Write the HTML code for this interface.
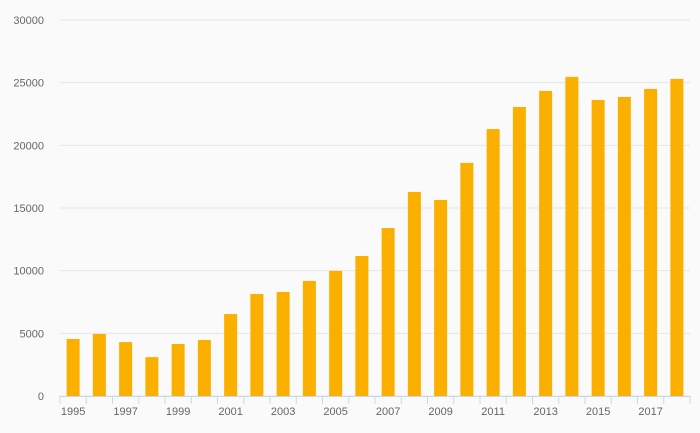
<!DOCTYPE html>
<html><head><meta charset="utf-8"><style>
html,body{margin:0;padding:0;background:#fafafa;}
svg{display:block;font-family:"Liberation Sans",sans-serif;}
</style></head><body>
<svg id="chart" width="700" height="433"></svg>
<script>
const categories=[1995,1996,1997,1998,1999,2000,2001,2002,2003,2004,2005,2006,2007,2008,2009,2010,2011,2012,2013,2014,2015,2016,2017,2018];
const values=[4550,4950,4300,3100,4150,4470,6540,8140,8300,9180,9980,11170,13400,16280,15640,18600,21300,23060,24340,25460,23620,23860,24500,25300];
const yTicks=[0,5000,10000,15000,20000,25000,30000];
const NS='http://www.w3.org/2000/svg';
const svg=document.getElementById('chart');
const L=60,R=690,T=20,B=396,yMax=30000;
const bw=(R-L)/categories.length;
const y=v=>B-(v/yMax)*(B-T);
const x=i=>L+bw*i+bw/2;
function mk(tag,attrs){const e=document.createElementNS(NS,tag);for(const k in attrs)e.setAttribute(k,attrs[k]);svg.appendChild(e);return e;}
yTicks.forEach(t=>{
  const g=mk('line',{x1:L,x2:R,y1:y(t),y2:y(t),stroke:'#e6e6e6','stroke-width':1});
  
  
  const tx=mk('text',{x:44,y:y(t)+4,'text-anchor':'end','font-size':11,fill:'#666'});
  tx.textContent=t;
  
  
});
values.forEach((v,i)=>{
  const r=mk('rect',{x:x(i)-6.5,y:y(v),width:13,height:B-y(v),fill:'#fbb000'});
  
  
});
const ax=mk('line',{x1:L,x2:R,y1:B+0.5,y2:B+0.5,stroke:'#ccd6eb','stroke-width':1});


for(let i=0;i<=categories.length;i++){
  const tk=mk('line',{x1:L+bw*i,x2:L+bw*i,y1:B,y2:B+8,stroke:'#ccd6eb','stroke-width':1});
  
  
}
categories.forEach((c,i)=>{
  if(i%2!==0)return;
  const tx=mk('text',{x:x(i),y:415,'text-anchor':'middle','font-size':11,fill:'#666'});
  tx.textContent=c;
  
  
});
</script>
</body></html>
